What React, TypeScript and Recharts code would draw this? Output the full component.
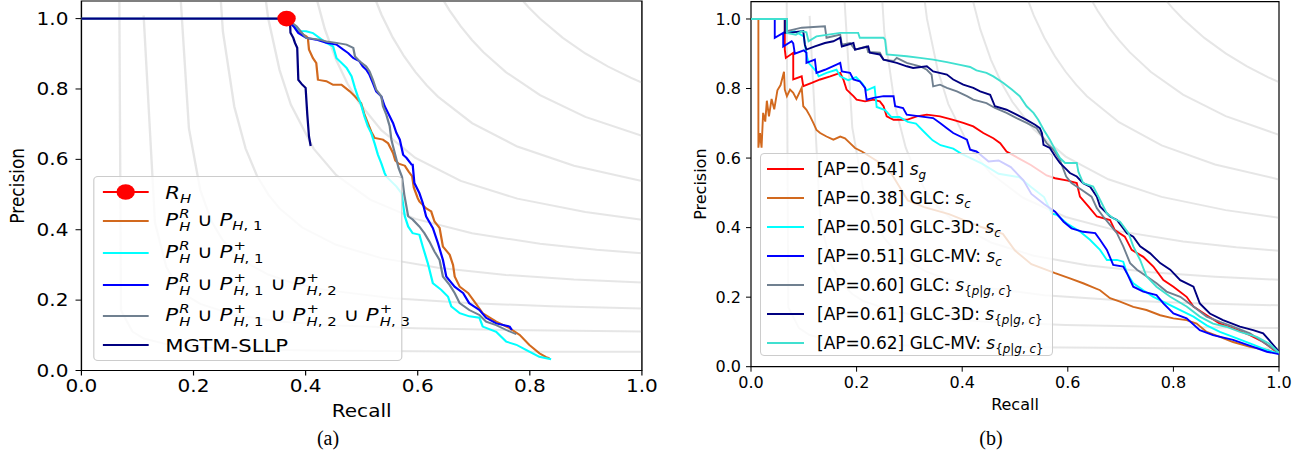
import React from "react";
import { LineChart, Line, XAxis, YAxis, ReferenceArea, Label } from "recharts";

type Pt = [number, number];

// ---- iso-F1 contours (recall, precision), F1 = 0.1 ... 0.9 ----
const isoF1: Pt[][] = [
  [[0.0504, 6.15], [0.0706, 0.171], [0.0908, 0.111], [0.111, 0.091], [0.1514, 0.075], [0.212, 0.065], [0.3131, 0.06], [0.4141, 0.057], [0.5959, 0.055], [0.798, 0.053], [1.0, 0.053]],
  [[0.111, 1.009], [0.1312, 0.4205], [0.1514, 0.2946], [0.1716, 0.2397], [0.1918, 0.209], [0.212, 0.1893], [0.2727, 0.1579], [0.3535, 0.1394], [0.4545, 0.1282], [0.5959, 0.1202], [0.798, 0.1143], [1.0, 0.1111]],
  [[0.1716, 1.1917], [0.1918, 0.6883], [0.212, 0.5129], [0.2322, 0.4237], [0.2524, 0.3697], [0.2727, 0.3334], [0.2929, 0.3075], [0.3333, 0.2728], [0.3737, 0.2506], [0.4343, 0.2291], [0.5555, 0.2055], [0.6969, 0.1911], [0.8384, 0.1827], [1.0, 0.1765]],
  [[0.2322, 1.4422], [0.2524, 0.9634], [0.2727, 0.7502], [0.2929, 0.6306], [0.3131, 0.5537], [0.3333, 0.5001], [0.3535, 0.4606], [0.3939, 0.4063], [0.4545, 0.3572], [0.5353, 0.3193], [0.6363, 0.2917], [0.7575, 0.2717], [0.8788, 0.2589], [1.0, 0.25]],
  [[0.2929, 1.7069], [0.3131, 1.2405], [0.3333, 1.0003], [0.3535, 0.8539], [0.3737, 0.7553], [0.4141, 0.6309], [0.4545, 0.5556], [0.5151, 0.4858], [0.5959, 0.4307], [0.6969, 0.3899], [0.8182, 0.36], [0.9192, 0.3434], [1.0, 0.3333]],
  [[0.3939, 1.2585], [0.4141, 1.0888], [0.4343, 0.9701], [0.4545, 0.8825], [0.4747, 0.8152], [0.4949, 0.7618], [0.5353, 0.6825], [0.5959, 0.6042], [0.6767, 0.5389], [0.7777, 0.4884], [0.899, 0.4503], [1.0, 0.4286]],
  [[0.4949, 1.1954], [0.5151, 1.092], [0.5353, 1.0111], [0.5555, 0.9461], [0.5757, 0.8927], [0.5959, 0.8482], [0.6161, 0.8104], [0.6363, 0.7779], [0.6969, 0.7031], [0.7777, 0.6364], [0.8788, 0.5817], [1.0, 0.5385]],
  [[0.6161, 1.1404], [0.6363, 1.0771], [0.6565, 1.0238], [0.6767, 0.9782], [0.6969, 0.9389], [0.7171, 0.9046], [0.7575, 0.8476], [0.8182, 0.7826], [0.899, 0.7206], [1.0, 0.6667]],
  [[0.7777, 1.068], [0.798, 1.0319], [0.8182, 1.0], [0.8586, 0.9456], [0.899, 0.901], [0.9394, 0.8638], [0.9798, 0.8322], [1.0, 0.8182]],
];

// ---- panel (a) ----
const rH: Pt[] = [[0.366, 1.0]];
const pH1: Pt[] = [
  [0, 1], [0.366, 1], [0.375, 0.985], [0.39, 0.96], [0.401, 0.95], [0.404, 0.945], [0.406, 0.912], [0.413, 0.888], [0.419, 0.874],
  [0.422, 0.826], [0.437, 0.822], [0.449, 0.812], [0.464, 0.812], [0.479, 0.793], [0.488, 0.779], [0.499, 0.76], [0.505, 0.727],
  [0.511, 0.703], [0.517, 0.679], [0.523, 0.661], [0.538, 0.656], [0.547, 0.646], [0.556, 0.618], [0.56, 0.597], [0.566, 0.588],
  [0.577, 0.582], [0.584, 0.565], [0.59, 0.552], [0.593, 0.52], [0.6, 0.49], [0.603, 0.48], [0.615, 0.461], [0.624, 0.452],
  [0.63, 0.423], [0.639, 0.405], [0.645, 0.352], [0.657, 0.329], [0.663, 0.3], [0.666, 0.267], [0.675, 0.238], [0.69, 0.22],
  [0.701, 0.196], [0.716, 0.163], [0.74, 0.139], [0.764, 0.12], [0.782, 0.101], [0.799, 0.073], [0.817, 0.049], [0.829, 0.038], [0.835, 0.035],
];
const pH1plus: Pt[] = [
  [0, 1], [0.366, 1], [0.38, 0.98], [0.39, 0.965], [0.401, 0.964], [0.413, 0.959], [0.425, 0.945], [0.437, 0.931], [0.449, 0.921],
  [0.455, 0.888], [0.464, 0.874], [0.473, 0.86], [0.482, 0.836], [0.488, 0.803], [0.493, 0.779], [0.499, 0.755], [0.505, 0.722],
  [0.511, 0.694], [0.517, 0.675], [0.523, 0.646], [0.529, 0.613], [0.535, 0.589], [0.541, 0.561], [0.544, 0.551], [0.562, 0.523],
  [0.571, 0.504], [0.577, 0.438], [0.583, 0.409], [0.591, 0.39], [0.603, 0.386], [0.609, 0.352], [0.618, 0.305], [0.627, 0.248],
  [0.642, 0.229], [0.654, 0.21], [0.66, 0.182], [0.675, 0.163], [0.692, 0.154], [0.71, 0.15], [0.716, 0.125], [0.74, 0.11],
  [0.758, 0.082], [0.776, 0.073], [0.794, 0.058], [0.817, 0.039], [0.838, 0.032],
];
const pH12: Pt[] = [
  [0, 1], [0.366, 1], [0.38, 0.975], [0.387, 0.959], [0.401, 0.945], [0.419, 0.94], [0.437, 0.931], [0.455, 0.926], [0.467, 0.912],
  [0.476, 0.902], [0.485, 0.888], [0.496, 0.879], [0.502, 0.864], [0.508, 0.855], [0.514, 0.84], [0.52, 0.817], [0.526, 0.793],
  [0.535, 0.779], [0.541, 0.751], [0.547, 0.732], [0.556, 0.703], [0.562, 0.675], [0.568, 0.656], [0.574, 0.613], [0.58, 0.604],
  [0.589, 0.585], [0.591, 0.585], [0.594, 0.533], [0.603, 0.504], [0.609, 0.476], [0.615, 0.438], [0.627, 0.405], [0.636, 0.362],
  [0.645, 0.314], [0.651, 0.267], [0.666, 0.238], [0.681, 0.22], [0.692, 0.191], [0.71, 0.172], [0.722, 0.15], [0.74, 0.134],
  [0.764, 0.125], [0.768, 0.115],
];
const pH123: Pt[] = [
  [0, 1], [0.366, 1], [0.384, 0.978], [0.401, 0.945], [0.425, 0.94], [0.437, 0.935], [0.455, 0.931], [0.473, 0.926], [0.485, 0.917],
  [0.488, 0.893], [0.496, 0.879], [0.508, 0.864], [0.514, 0.85], [0.52, 0.826], [0.526, 0.798], [0.535, 0.779], [0.538, 0.751],
  [0.544, 0.727], [0.55, 0.694], [0.553, 0.656], [0.556, 0.637], [0.562, 0.6], [0.566, 0.575], [0.572, 0.55], [0.576, 0.5],
  [0.583, 0.438], [0.591, 0.429], [0.603, 0.409], [0.612, 0.39], [0.621, 0.366], [0.63, 0.338], [0.639, 0.314], [0.645, 0.267],
  [0.657, 0.243], [0.666, 0.22], [0.675, 0.191], [0.692, 0.172], [0.71, 0.158], [0.722, 0.139], [0.74, 0.129], [0.758, 0.115], [0.776, 0.103],
];
const mgtmSllp: Pt[] = [
  [0, 1], [0.366, 1], [0.372, 0.997], [0.373, 0.96], [0.378, 0.945], [0.381, 0.931], [0.385, 0.917], [0.387, 0.826],
  [0.394, 0.812], [0.4, 0.803], [0.403, 0.727], [0.406, 0.665], [0.409, 0.638],
];

// ---- panel (b) ----
const sG: Pt[] = [
  [0, 1], [0.064, 1], [0.064, 0.912], [0.066, 0.888], [0.08, 0.903], [0.08, 0.826], [0.096, 0.835], [0.099, 0.807], [0.115, 0.816],
  [0.131, 0.826], [0.15, 0.835], [0.169, 0.845], [0.175, 0.826], [0.181, 0.797], [0.194, 0.778], [0.2, 0.768], [0.216, 0.763],
  [0.232, 0.768], [0.244, 0.763], [0.251, 0.749], [0.257, 0.72], [0.27, 0.71], [0.295, 0.71], [0.314, 0.72], [0.333, 0.725],
  [0.358, 0.72], [0.383, 0.71], [0.402, 0.701], [0.421, 0.691], [0.44, 0.672], [0.459, 0.657], [0.472, 0.643], [0.484, 0.619],
  [0.492, 0.612], [0.53, 0.58], [0.56, 0.55], [0.576, 0.542], [0.6, 0.535], [0.617, 0.528], [0.623, 0.489], [0.639, 0.461],
  [0.655, 0.432], [0.68, 0.422], [0.689, 0.393], [0.708, 0.374], [0.721, 0.336], [0.743, 0.316], [0.762, 0.288], [0.781, 0.249],
  [0.8, 0.23], [0.825, 0.201], [0.838, 0.173], [0.863, 0.148], [0.888, 0.124], [0.913, 0.11], [0.945, 0.091], [0.97, 0.071], [1.0, 0.038],
];
const glcSc: Pt[] = [
  [0, 1], [0.014, 1], [0.014, 0.63], [0.017, 0.672], [0.02, 0.63], [0.023, 0.73], [0.027, 0.705], [0.03, 0.765], [0.034, 0.72],
  [0.039, 0.77], [0.044, 0.74], [0.05, 0.795], [0.056, 0.81], [0.0625, 0.848], [0.064, 0.797], [0.068, 0.778], [0.074, 0.797],
  [0.08, 0.788], [0.086, 0.77], [0.096, 0.802], [0.099, 0.749], [0.105, 0.739], [0.112, 0.72], [0.118, 0.701], [0.124, 0.681],
  [0.131, 0.672], [0.143, 0.662], [0.156, 0.653], [0.169, 0.662], [0.178, 0.657], [0.1875, 0.643], [0.197, 0.629], [0.21, 0.619],
  [0.24, 0.59], [0.266, 0.555], [0.297, 0.478], [0.328, 0.459], [0.375, 0.439], [0.4375, 0.401], [0.477, 0.382], [0.5, 0.334],
  [0.531, 0.295], [0.576, 0.269], [0.604, 0.254], [0.629, 0.24], [0.661, 0.22], [0.68, 0.197], [0.699, 0.187], [0.724, 0.172],
  [0.749, 0.163], [0.775, 0.148], [0.8, 0.139], [0.825, 0.134], [0.844, 0.124], [0.863, 0.1], [0.888, 0.086], [0.913, 0.071],
  [0.945, 0.057], [0.977, 0.048], [1.0, 0.038],
];
const glc3dSc: Pt[] = [
  [0, 1], [0.068, 1], [0.068, 0.96], [0.083, 0.965], [0.1, 0.95], [0.102, 0.93], [0.105, 0.898], [0.109, 0.874], [0.124, 0.849],
  [0.128, 0.835], [0.143, 0.845], [0.162, 0.854], [0.169, 0.835], [0.184, 0.824], [0.199, 0.833], [0.211, 0.814], [0.219, 0.795],
  [0.234, 0.805], [0.238, 0.747], [0.254, 0.738], [0.266, 0.718], [0.281, 0.718], [0.297, 0.704], [0.3125, 0.699], [0.328, 0.675],
  [0.344, 0.651], [0.359, 0.637], [0.383, 0.627], [0.398, 0.613], [0.4375, 0.584], [0.469, 0.555], [0.508, 0.545], [0.531, 0.516],
  [0.555, 0.488], [0.57, 0.44], [0.579, 0.437], [0.6, 0.41], [0.623, 0.389], [0.642, 0.365], [0.661, 0.336], [0.674, 0.307],
  [0.693, 0.307], [0.705, 0.302], [0.712, 0.269], [0.724, 0.24], [0.743, 0.22], [0.762, 0.201], [0.787, 0.182], [0.813, 0.163],
  [0.838, 0.144], [0.863, 0.119], [0.888, 0.1], [0.913, 0.086], [0.945, 0.067], [0.977, 0.048], [1.0, 0.038],
];
const glcMvSc: Pt[] = [
  [0, 1], [0.045, 1], [0.045, 0.946], [0.061, 0.96], [0.061, 0.921], [0.077, 0.936], [0.08, 0.93], [0.083, 0.9], [0.1, 0.91],
  [0.105, 0.903], [0.105, 0.874], [0.121, 0.883], [0.124, 0.845], [0.14, 0.854], [0.162, 0.869], [0.169, 0.874], [0.172, 0.849],
  [0.1875, 0.845], [0.194, 0.826], [0.206, 0.821], [0.216, 0.802], [0.219, 0.768], [0.232, 0.773], [0.251, 0.778], [0.27, 0.778],
  [0.273, 0.749], [0.288, 0.744], [0.295, 0.725], [0.32, 0.72], [0.345, 0.715], [0.358, 0.701], [0.371, 0.686], [0.383, 0.672],
  [0.409, 0.653], [0.415, 0.624], [0.427, 0.619], [0.45, 0.59], [0.469, 0.593], [0.492, 0.574], [0.516, 0.536], [0.531, 0.497],
  [0.555, 0.468], [0.576, 0.446], [0.592, 0.417], [0.607, 0.398], [0.629, 0.388], [0.652, 0.384], [0.661, 0.365], [0.674, 0.336],
  [0.686, 0.293], [0.705, 0.288], [0.712, 0.269], [0.724, 0.23], [0.743, 0.216], [0.768, 0.206], [0.781, 0.182], [0.8, 0.153],
  [0.825, 0.139], [0.85, 0.105], [0.875, 0.091], [0.913, 0.077], [0.951, 0.057], [0.977, 0.043], [1.0, 0.036],
];
const glcSpgc: Pt[] = [
  [0, 1], [0.068, 1], [0.068, 0.965], [0.096, 0.975], [0.14, 0.979], [0.143, 0.946], [0.169, 0.955], [0.172, 0.926], [0.1875, 0.931],
  [0.197, 0.912], [0.219, 0.921], [0.222, 0.905], [0.244, 0.903], [0.251, 0.883], [0.27, 0.879], [0.276, 0.888], [0.295, 0.874],
  [0.32, 0.864], [0.333, 0.854], [0.342, 0.84], [0.345, 0.806], [0.358, 0.811], [0.371, 0.802], [0.39, 0.792], [0.409, 0.778],
  [0.421, 0.768], [0.446, 0.758], [0.462, 0.744], [0.484, 0.73], [0.503, 0.715], [0.522, 0.701], [0.541, 0.686], [0.547, 0.672],
  [0.56, 0.643], [0.573, 0.624], [0.585, 0.595], [0.597, 0.547], [0.607, 0.528], [0.626, 0.509], [0.645, 0.489], [0.655, 0.456],
  [0.667, 0.432], [0.68, 0.408], [0.693, 0.384], [0.705, 0.346], [0.718, 0.298], [0.731, 0.279], [0.749, 0.26], [0.768, 0.24],
  [0.787, 0.216], [0.813, 0.201], [0.838, 0.173], [0.863, 0.144], [0.888, 0.129], [0.913, 0.115], [0.945, 0.096], [0.97, 0.071], [1.0, 0.04],
];
const glc3dSpgc: Pt[] = [
  [0, 1], [0.064, 1], [0.064, 0.96], [0.071, 0.96], [0.099, 0.965], [0.102, 0.926], [0.105, 0.912], [0.121, 0.921], [0.14, 0.931],
  [0.156, 0.936], [0.169, 0.946], [0.172, 0.921], [0.194, 0.931], [0.197, 0.912], [0.222, 0.921], [0.225, 0.903], [0.244, 0.898],
  [0.251, 0.883], [0.276, 0.874], [0.295, 0.864], [0.307, 0.859], [0.333, 0.864], [0.345, 0.849], [0.371, 0.84], [0.383, 0.826],
  [0.402, 0.811], [0.421, 0.802], [0.434, 0.792], [0.453, 0.782], [0.462, 0.749], [0.484, 0.739], [0.503, 0.725], [0.522, 0.71],
  [0.538, 0.696], [0.547, 0.686], [0.551, 0.672], [0.554, 0.638], [0.566, 0.629], [0.576, 0.605], [0.585, 0.586], [0.595, 0.571],
  [0.604, 0.557], [0.617, 0.547], [0.629, 0.528], [0.642, 0.518], [0.655, 0.489], [0.661, 0.461], [0.68, 0.432], [0.693, 0.422],
  [0.712, 0.384], [0.724, 0.374], [0.737, 0.346], [0.756, 0.326], [0.775, 0.298], [0.794, 0.279], [0.813, 0.249], [0.838, 0.23],
  [0.85, 0.182], [0.869, 0.153], [0.894, 0.134], [0.926, 0.115], [0.951, 0.105], [0.97, 0.096], [0.981, 0.077], [1.0, 0.043],
];
const glcMvSpgc: Pt[] = [
  [0, 1], [0.068, 1], [0.068, 0.96], [0.085, 0.955], [0.096, 0.965], [0.105, 0.962], [0.109, 0.936], [0.124, 0.95], [0.169, 0.96],
  [0.203, 0.96], [0.206, 0.946], [0.251, 0.946], [0.254, 0.94], [0.257, 0.898], [0.295, 0.893], [0.32, 0.888], [0.345, 0.883],
  [0.371, 0.876], [0.396, 0.868], [0.415, 0.862], [0.427, 0.852], [0.446, 0.845], [0.459, 0.835], [0.478, 0.816], [0.494, 0.797],
  [0.509, 0.778], [0.522, 0.749], [0.535, 0.73], [0.544, 0.71], [0.554, 0.682], [0.566, 0.653], [0.576, 0.624], [0.585, 0.6],
  [0.595, 0.586], [0.617, 0.586], [0.62, 0.561], [0.629, 0.528], [0.648, 0.518], [0.661, 0.48], [0.674, 0.441], [0.686, 0.427],
  [0.699, 0.417], [0.715, 0.384], [0.724, 0.346], [0.737, 0.307], [0.749, 0.26], [0.768, 0.23], [0.794, 0.201], [0.825, 0.173],
  [0.85, 0.144], [0.875, 0.124], [0.9, 0.115], [0.926, 0.1], [0.958, 0.086], [0.981, 0.067], [1.0, 0.04],
];

const ticks = [0, 0.2, 0.4, 0.6, 0.8, 1.0];
const fmt = (v: number) => v.toFixed(1);
const rows = (pts: Pt[]) => pts.map(([r, p]) => ({ r, p }));
const FONT = "DejaVu Sans";

// ---- little mathtext helpers for legends ----
const It = ({ children }: { children: React.ReactNode }) => <span style={{ fontStyle: "italic" }}>{children}</span>;
const Sub = ({ children }: { children: React.ReactNode }) => (
  <span style={{ fontSize: "0.7em", verticalAlign: "-0.35em", lineHeight: 0 }}>{children}</span>
);
const SupSub = ({ sup, sub }: { sup: React.ReactNode; sub: React.ReactNode }) => (
  <span style={{ display: "inline-flex", flexDirection: "column", fontSize: "0.7em", lineHeight: 1, verticalAlign: "0.6em", marginLeft: 1 }}>
    <span>{sup}</span>
    <span>{sub}</span>
  </span>
);
const H1 = <><It>H</It>, 1</>;
const H2 = <><It>H</It>, 2</>;
const H3 = <><It>H</It>, 3</>;
const PHR = <><It>P</It><SupSub sup={<It>R</It>} sub={<It>H</It>} /></>;
const Pplus = (sub: React.ReactNode) => <><It>P</It><SupSub sup="+" sub={sub} /></>;
const sPGC = <><It>s</It><Sub>{"{"}<It>p</It>|<It>g</It>, <It>c</It>{"}"}</Sub></>;
const sC = <><It>s</It><Sub><It>c</It></Sub></>;

const seriesA = [
  { key: "pH1", data: pH1, color: "#d2691e", label: <>{PHR} ∪ <It>P</It><Sub>{H1}</Sub></> },
  { key: "pH1plus", data: pH1plus, color: "#00ffff", label: <>{PHR} ∪ {Pplus(H1)}</> },
  { key: "pH12", data: pH12, color: "#0000ff", label: <>{PHR} ∪ {Pplus(H1)} ∪ {Pplus(H2)}</> },
  { key: "pH123", data: pH123, color: "#708090", label: <>{PHR} ∪ {Pplus(H1)} ∪ {Pplus(H2)} ∪ {Pplus(H3)}</> },
  { key: "mgtm", data: mgtmSllp, color: "#000080", label: <>MGTM-SLLP</> },
];
const rowHeightsA = [26, 32, 32, 31, 32, 26];

const seriesB = [
  { key: "sg", data: sG, color: "#ff0000", label: <>[AP=0.54] <It>s</It><Sub><It>g</It></Sub></> },
  { key: "glc", data: glcSc, color: "#d2691e", label: <>[AP=0.38] GLC: {sC}</> },
  { key: "glc3d", data: glc3dSc, color: "#00ffff", label: <>[AP=0.50] GLC-3D: {sC}</> },
  { key: "glcmv", data: glcMvSc, color: "#0000ff", label: <>[AP=0.51] GLC-MV: {sC}</> },
  { key: "glcp", data: glcSpgc, color: "#708090", label: <>[AP=0.60] GLC: {sPGC}</> },
  { key: "glc3dp", data: glc3dSpgc, color: "#000080", label: <>[AP=0.61] GLC-3D: {sPGC}</> },
  { key: "glcmvp", data: glcMvSpgc, color: "#40e0d0", label: <>[AP=0.62] GLC-MV: {sPGC}</> },
];

const isoLines = (prefix: string) =>
  isoF1.map((pts, i) => (
    <Line key={`${prefix}${i}`} data={rows(pts)} dataKey="p" stroke="#808080" strokeOpacity={0.2} strokeWidth={2}
      dot={false} activeDot={false} isAnimationActive={false} />
  ));

const yLabel = (cx: number, size: number) => (props: any) => {
  const vb = props.viewBox;
  const cy = vb.y + vb.height / 2;
  return (
    <text x={cx} y={cy} transform={`rotate(-90 ${cx} ${cy})`} textAnchor="middle" dominantBaseline="central"
      fontSize={size} fill="#000" fontFamily={FONT}>Precision</text>
  );
};

const legendBox: React.CSSProperties = {
  position: "absolute",
  background: "rgba(255,255,255,0.8)",
  border: "1px solid #cccccc",
  borderRadius: 4,
  boxSizing: "border-box",
  fontFamily: FONT,
  color: "#000",
  whiteSpace: "nowrap",
};

function PanelA() {
  return (
    <div style={{ position: "absolute", left: 0, top: 0, width: 560, height: 453, transform: "scaleX(1.18)", transformOrigin: "0 0" }}>
      <LineChart width={560} height={420} margin={{ top: 1, right: 16, bottom: 19.5, left: 9 }} style={{ fontFamily: FONT }}>
        <XAxis type="number" dataKey="r" domain={[0, 1]} ticks={ticks} tickFormatter={fmt} allowDataOverflow
          axisLine={false} tickSize={5} tickMargin={4} height={30} stroke="#000"
          tick={{ fill: "#000", fontSize: 17 }} label={{ value: "Recall", position: "bottom", offset: 4, fill: "#000", fontSize: 17 }} />
        <YAxis type="number" domain={[0, 1.05]} ticks={ticks} tickFormatter={fmt} allowDataOverflow
          axisLine={false} tickSize={5} tickMargin={6} width={60} stroke="#000" tick={{ fill: "#000", fontSize: 17 }}>
          <Label content={yLabel(14.5, 17)} />
        </YAxis>
        {isoLines("a")}
        <Line data={rows(rH)} dataKey="p" stroke="#ff0000" strokeWidth={2}
          dot={{ r: 7.8, fill: "#ff0000", stroke: "#ff0000", strokeWidth: 0 }} activeDot={false} isAnimationActive={false} />
        {seriesA.map((s) => (
          <Line key={s.key} data={rows(s.data)} dataKey="p" stroke={s.color} strokeWidth={1.9}
            dot={false} activeDot={false} isAnimationActive={false} />
        ))}
        <ReferenceArea x1={0} x2={1} y1={0} y2={1.05} fill="none" stroke="#000" strokeWidth={1.2} ifOverflow="visible" />
      </LineChart>
      <div style={{ ...legendBox, left: 78.8, top: 176, width: 262.7, height: 185, paddingTop: 2, fontSize: 18 }}>
        {[{ key: "rh", color: "#ff0000", label: <><It>R</It><Sub><It>H</It></Sub></>, marker: true }, ...seriesA].map((s: any, i) => (
          <div key={s.key} style={{ height: rowHeightsA[i], display: "flex", alignItems: "center" }}>
            <svg width={46} height={20} style={{ marginLeft: 6.8, flex: "none" }}>
              <line x1={0} x2={39} y1={10} y2={10} stroke={s.color} strokeWidth={2} />
              {s.marker && <circle cx={19.5} cy={10} r={7.8} fill="#ff0000" />}
            </svg>
            <span style={{ marginLeft: 7.4 }}>{s.label}</span>
          </div>
        ))}
      </div>
    </div>
  );
}

function PanelB() {
  return (
    <div style={{ position: "absolute", left: 680, top: 0, width: 627, height: 453 }}>
      <LineChart width={627} height={420} margin={{ top: 1.6, right: 28, bottom: 23.3, left: 11 }} style={{ fontFamily: FONT }}>
        <XAxis type="number" dataKey="r" domain={[0, 1]} ticks={ticks} tickFormatter={fmt} allowDataOverflow
          axisLine={false} tickSize={5} tickMargin={5} height={30} stroke="#000"
          tick={{ fill: "#000", fontSize: 16 }} label={{ value: "Recall", position: "bottom", offset: 2.3, fill: "#000", fontSize: 16 }} />
        <YAxis type="number" domain={[0, 1.05]} ticks={ticks} tickFormatter={fmt} allowDataOverflow
          axisLine={false} tickSize={5} tickMargin={5} width={60} stroke="#000" tick={{ fill: "#000", fontSize: 16 }}>
          <Label content={yLabel(20.5, 16)} />
        </YAxis>
        {isoLines("b")}
        {seriesB.map((s) => (
          <Line key={s.key} data={rows(s.data)} dataKey="p" stroke={s.color} strokeWidth={1.9}
            dot={false} activeDot={false} isAnimationActive={false} />
        ))}
        <ReferenceArea x1={0} x2={1} y1={0} y2={1.05} fill="none" stroke="#000" strokeWidth={1.2} ifOverflow="visible" />
      </LineChart>
      <div style={{ ...legendBox, left: 80, top: 153, width: 293, height: 203, fontSize: 17 }}>
        {seriesB.map((s) => (
          <div key={s.key} style={{ height: 29, display: "flex", alignItems: "center" }}>
            <svg width={44} height={10} style={{ marginLeft: 6, flex: "none" }}>
              <line x1={0} x2={37} y1={5} y2={5} stroke={s.color} strokeWidth={2} />
            </svg>
            <span style={{ marginLeft: 6 }}>{s.label}</span>
          </div>
        ))}
      </div>
    </div>
  );
}

const caption: React.CSSProperties = {
  position: "absolute",
  top: 426,
  fontFamily: "Liberation Serif",
  fontSize: 20,
  lineHeight: "24px",
  transform: "translateX(-50%)",
  color: "#000",
};

export default function App() {
  return (
    <div style={{ position: "absolute", left: 0, top: 0, width: 1307, height: 453, background: "#fff", overflow: "hidden" }}>
      <PanelA />
      <PanelB />
      <div style={{ ...caption, left: 328 }}>(a)</div>
      <div style={{ ...caption, left: 991 }}>(b)</div>
    </div>
  );
}
